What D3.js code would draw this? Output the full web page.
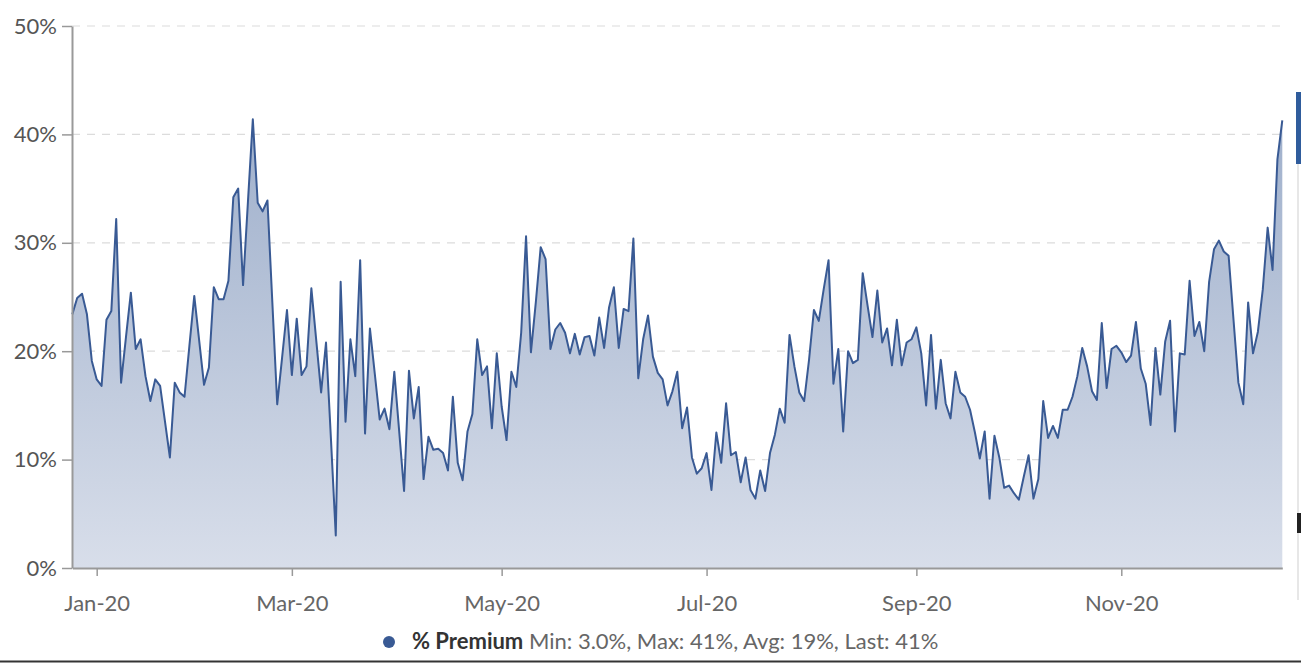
<!DOCTYPE html>
<html>
<head>
<meta charset="utf-8">
<script src="https://cdn.jsdelivr.net/npm/d3@7/dist/d3.min.js"></script>
<style>
  html, body { margin: 0; padding: 0; background: #ffffff; }
  svg { display: block; }
  text { font-family: Lato, "Noto Sans", sans-serif; }
</style>
</head>
<body>
<svg id="chart" width="1301" height="663"></svg>
<script>
// ---- data ----
const seriesName = "% Premium";
const startDate = "2019-12-24";
const holidays = ["2019-12-25","2020-01-01","2020-01-20","2020-02-17","2020-04-10",
  "2020-05-25","2020-07-03","2020-09-07","2020-10-12","2020-11-11","2020-11-26","2020-12-25"];
const premium = [
  23.4, 24.9, 25.3, 23.4, 19.1, 17.4, 16.8, 22.9, 23.7, 32.2, 17.1, 21.3, 25.4, 20.2, 21.1, 17.7, 15.4, 17.4, 16.8, 13.5,
  10.2, 17.1, 16.2, 15.8, 20.5, 25.1, 21.0, 16.9, 18.5, 25.9, 24.8, 24.8, 26.5, 34.2, 35.0, 26.1, 33.8, 41.4, 33.7, 32.9,
  33.9, 24.5, 15.1, 19.4, 23.8, 17.8, 23.0, 17.8, 18.6, 25.8, 21.0, 16.2, 20.8, 12.0, 3.0, 26.4, 13.5, 21.1, 17.7, 28.4,
  12.4, 22.1, 17.9, 13.7, 14.7, 12.8, 18.1, 12.6, 7.1, 18.2, 13.8, 16.7, 8.2, 12.1, 10.9, 11.0, 10.6, 9.0, 15.8, 9.7,
  8.1, 12.6, 14.2, 21.1, 17.8, 18.6, 12.9, 19.8, 14.9, 11.8, 18.1, 16.7, 21.7, 30.6, 19.9, 24.5, 29.6, 28.5, 20.2, 22.0,
  22.6, 21.7, 19.8, 21.6, 19.7, 21.3, 21.4, 19.6, 23.1, 20.3, 24.0, 25.9, 20.3, 23.9, 23.7, 30.4, 17.5, 21.1, 23.3, 19.5,
  18.0, 17.4, 15.0, 16.3, 18.1, 12.9, 14.8, 10.2, 8.7, 9.2, 10.6, 7.2, 12.5, 9.7, 15.2, 10.4, 10.7, 7.9, 10.2, 7.2,
  6.4, 9.0, 7.1, 10.6, 12.3, 14.7, 13.4, 21.5, 18.6, 16.2, 15.4, 19.2, 23.8, 22.8, 25.7, 28.4, 17.0, 20.2, 12.6, 20.0,
  18.9, 19.2, 27.2, 24.2, 21.3, 25.6, 20.8, 22.1, 18.7, 22.9, 18.7, 20.8, 21.1, 22.2, 19.8, 15.0, 21.5, 14.7, 19.2, 15.2,
  13.8, 18.1, 16.2, 15.8, 14.6, 12.5, 10.1, 12.6, 6.4, 12.2, 10.2, 7.4, 7.6, 6.9, 6.3, 8.4, 10.4, 6.4, 8.2, 15.4,
  12.0, 13.1, 12.0, 14.6, 14.6, 15.8, 17.7, 20.3, 18.6, 16.3, 15.5, 22.6, 16.6, 20.2, 20.5, 19.9, 19.0, 19.6, 22.7, 18.4,
  17.0, 13.2, 20.3, 16.0, 20.9, 22.8, 12.6, 19.8, 19.7, 26.5, 21.4, 22.7, 20.0, 26.4, 29.4, 30.2, 29.2, 28.8, 22.9, 17.1,
  15.1, 24.5, 19.8, 21.8, 25.7, 31.4, 27.5, 37.7, 41.3
];
const yTicks = [0, 10, 20, 30, 40, 50];
const xTickMonths = ["2020-01", "2020-03", "2020-05", "2020-07", "2020-09", "2020-11"];
const legendStats = "Min: 3.0%, Max: 41%, Avg: 19%, Last: 41%";

// ---- trading dates ----
const parse = d3.utcParse("%Y-%m-%d");
const fmtDay = d3.utcFormat("%Y-%m-%d");
const hol = new Set(holidays);
const dates = [];
let d = parse(startDate);
while (dates.length < premium.length) {
  const wd = d.getUTCDay();
  if (wd !== 0 && wd !== 6 && !hol.has(fmtDay(d))) dates.push(new Date(d));
  d = d3.utcDay.offset(d, 1);
}
const fmtMonth = d3.utcFormat("%Y-%m");
const tickIdx = xTickMonths.map(m => dates.findIndex(dt => fmtMonth(dt) === m));
const fmtLabel = d3.utcFormat("%b-%y");

// ---- layout ----
const W = 1301, H = 663;
const plot = { left: 72, right: 1282, top: 26, bottom: 568 };
const lineColor = "#395a94";
const FS = "22px";

const svg = d3.select("#chart");
const x = d3.scaleLinear().domain([0, premium.length - 1]).range([plot.left + 0.3, plot.right + 0.3]);
const y = d3.scaleLinear().domain([0, 50]).range([plot.bottom, plot.top]);

// gradient
const defs = svg.append("defs");
const grad = defs.append("linearGradient").attr("id", "areaGrad")
  .attr("gradientUnits", "userSpaceOnUse")
  .attr("x1", 0).attr("x2", 0).attr("y1", y(42)).attr("y2", y(0));
grad.append("stop").attr("offset", 0).attr("stop-color", "#9eafcb");
grad.append("stop").attr("offset", 1).attr("stop-color", "#d8deea");

// grid
svg.append("g").selectAll("line").data(yTicks.filter(t => t > 0)).join("line")
  .attr("x1", plot.left).attr("x2", plot.right)
  .attr("y1", t => y(t)).attr("y2", t => y(t))
  .attr("stroke", "#dcdcdc").attr("stroke-width", 1.2)
  .attr("stroke-dasharray", "8,7");

// area + line
const area = d3.area().x((v, i) => x(i)).y0(y(0)).y1(v => y(v));
const line = d3.line().x((v, i) => x(i)).y(v => y(v));
svg.append("path").datum(premium).attr("d", area).attr("fill", "url(#areaGrad)");
svg.append("path").datum(premium).attr("d", line)
  .attr("fill", "none").attr("stroke", lineColor).attr("stroke-width", 2)
  .attr("stroke-linejoin", "round");

// y axis
const yAxis = svg.append("g").attr("transform", `translate(${plot.left},0)`)
  .call(d3.axisLeft(y).tickValues(yTicks).tickFormat(t => t + "%").tickSize(10).tickSizeOuter(0).tickPadding(5));
yAxis.select(".domain").attr("stroke", "#999").attr("stroke-width", 2);
yAxis.selectAll(".tick line").attr("stroke", "#999").attr("stroke-width", 1.5);
yAxis.selectAll("text").attr("fill", "#555").style("font-size", FS).style("font-family", "Lato");

// x axis
const xAxis = svg.append("g").attr("transform", `translate(0,${plot.bottom})`)
  .call(d3.axisBottom(x).tickValues(tickIdx).tickFormat(i => fmtLabel(dates[i])).tickSize(8).tickSizeOuter(0));
xAxis.select(".domain").attr("stroke", "#999").attr("stroke-width", 2);
xAxis.selectAll(".tick line").attr("stroke", "#999").attr("stroke-width", 1.5);
xAxis.selectAll("text").attr("fill", "#666").attr("y", 43).attr("dy", 0)
  .style("font-size", FS).style("font-family", "Lato");

// legend
const lg = svg.append("g");
lg.append("circle").attr("cx", 389).attr("cy", 642).attr("r", 6).attr("fill", lineColor);
const lt = lg.append("text").attr("x", 412).attr("y", 649).style("font-size", FS);
lt.append("tspan").attr("font-weight", "bold").attr("fill", "#333").text(seriesName);
lt.append("tspan").attr("fill", "#666").text(" " + legendStats);

// frame bits at the edges of the capture
svg.append("line").attr("x1", 0).attr("x2", W).attr("y1", H - 1.5).attr("y2", H - 1.5)
  .attr("stroke", "#333").attr("stroke-width", 2);
svg.append("rect").attr("x", 1296).attr("y", 92).attr("width", 5).attr("height", 72).attr("fill", "#2f5c9c");
svg.append("line").attr("x1", 1298).attr("x2", 1298).attr("y1", 164).attr("y2", 600)
  .attr("stroke", "#cfcfcf").attr("stroke-width", 1);
svg.append("rect").attr("x", 1297).attr("y", 513).attr("width", 4).attr("height", 20).attr("fill", "#222");
</script>
</body>
</html>
